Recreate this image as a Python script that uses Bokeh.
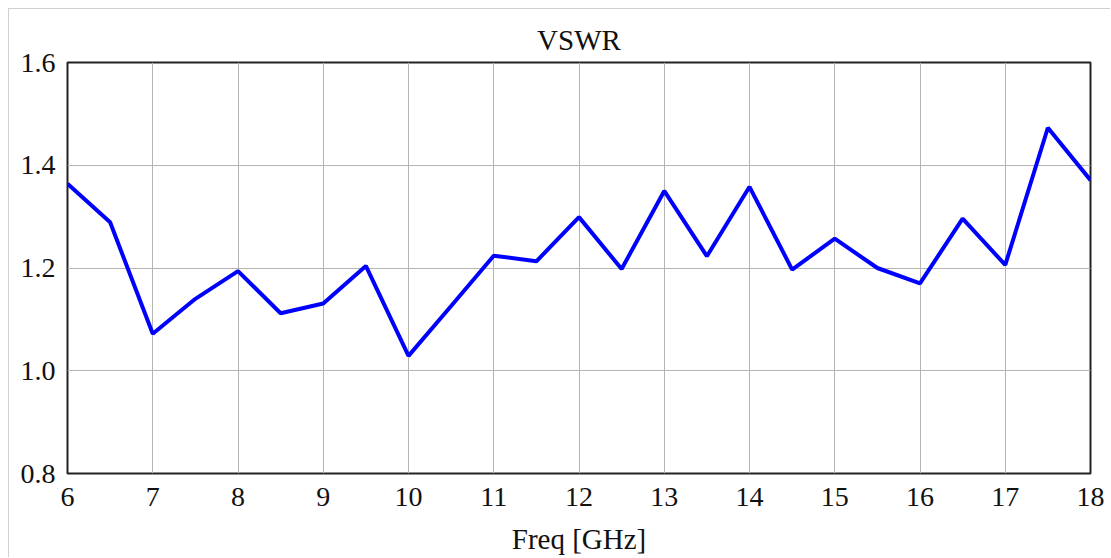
from bokeh.plotting import figure
from bokeh.models import FixedTicker, Range1d, PrintfTickFormatter
from bokeh.embed import file_html
from bokeh.resources import INLINE

freq = [6.0, 6.5, 7.0, 7.5, 8.0, 8.5, 9.0, 9.5, 10.0, 10.5, 11.0, 11.5, 12.0,
        12.5, 13.0, 13.5, 14.0, 14.5, 15.0, 15.5, 16.0, 16.5, 17.0, 17.5, 18.0]
vswr = [1.364, 1.289, 1.072, 1.140, 1.194, 1.112, 1.131, 1.204, 1.029, 1.126,
        1.224, 1.213, 1.299, 1.198, 1.350, 1.223, 1.358, 1.197, 1.257, 1.200,
        1.170, 1.296, 1.206, 1.473, 1.371]
x_ticks = [6, 7, 8, 9, 10, 11, 12, 13, 14, 15, 16, 17, 18]
y_ticks = [0.8, 1.0, 1.2, 1.4, 1.6]
title_text = "VSWR"

FONT = "Liberation Serif"

p = figure(width=1102, height=549, output_backend="svg", toolbar_location=None,
           x_range=Range1d(6, 18), y_range=Range1d(0.8, 1.6),
           min_border_left=58, min_border_right=21, min_border_top=53, min_border_bottom=85,
           title=title_text)
p.title.align = "center"
p.title.vertical_align = "top"
p.title.text_font = FONT
p.title.text_font_size = "29px"
p.title.text_font_style = "normal"
p.title.text_color = "#111111"
p.title.standoff = 10

p.line(freq, vswr, line_color="#0000ff", line_width=4)

p.xaxis.ticker = FixedTicker(ticks=x_ticks)
p.yaxis.ticker = FixedTicker(ticks=y_ticks)
p.yaxis.formatter = PrintfTickFormatter(format="%.1f")
for ax in (p.xaxis, p.yaxis):
    ax.major_tick_out = 0
    ax.major_tick_in = 0
    ax.minor_tick_out = 0
    ax.minor_tick_in = 0
    ax.axis_line_color = None
    ax.major_label_text_font = FONT
    ax.major_label_text_font_size = "28px"
    ax.major_label_text_color = "#111111"
p.xaxis.major_label_standoff = 14
p.yaxis.major_label_standoff = 12
p.xaxis.axis_label = "Freq [GHz]"
p.xaxis.axis_label_text_font = FONT
p.xaxis.axis_label_text_font_size = "29px"
p.xaxis.axis_label_text_font_style = "normal"
p.xaxis.axis_label_text_color = "#111111"
p.xaxis.axis_label_standoff = 14

p.grid.grid_line_color = "#b4b4b4"
p.grid.grid_line_width = 1
p.outline_line_color = "#222222"
p.outline_line_width = 2
p.styles = {"margin-top": "8px", "margin-left": "8px",
            "border-top": "1px solid #d0d0d0", "border-left": "1px solid #d0d0d0"}

open("out.html", "w").write(file_html(p, INLINE))
